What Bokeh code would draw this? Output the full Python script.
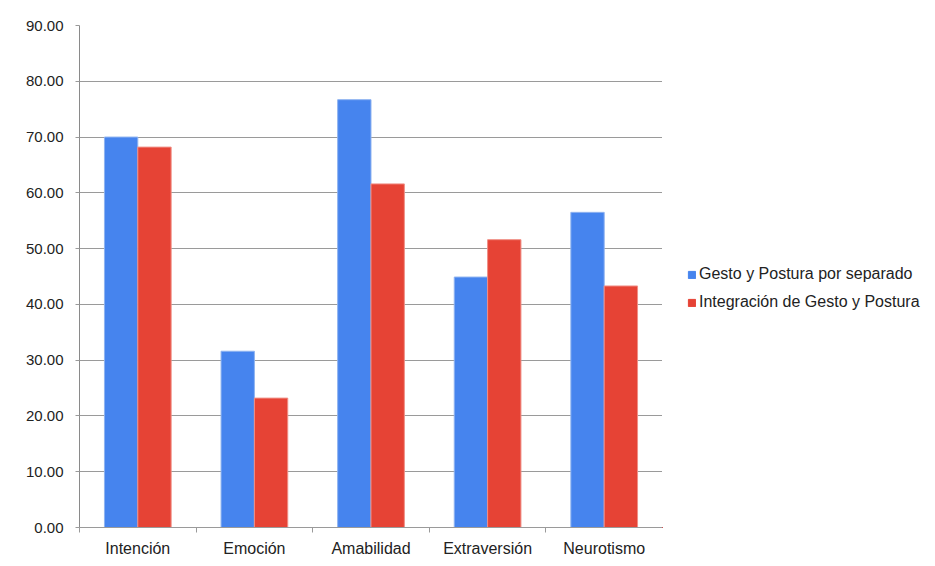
from bokeh.plotting import figure
from bokeh.layouts import row
from bokeh.models import (ColumnDataSource, FixedTicker, Legend, LegendItem,
                          NumeralTickFormatter)
from bokeh.embed import file_html
from bokeh.resources import INLINE

categories = ["Intención", "Emoción", "Amabilidad", "Extraversión", "Neurotismo"]
series_names = ["Gesto y Postura por separado", "Integración de Gesto y Postura"]
separado = [70.0, 31.6, 76.7, 44.9, 56.5]
integracion = [68.2, 23.2, 61.6, 51.6, 43.3]
y_ticks = [0, 10, 20, 30, 40, 50, 60, 70, 80, 90]

BLUE = "#4684EE"
RED = "#E64335"
FONT = "Liberation Sans"

idx = list(range(len(categories)))
bar_w = 0.286
src = ColumnDataSource(dict(
    xb=[i + 0.5 - bar_w / 2 for i in idx],
    xr=[i + 0.5 + bar_w / 2 for i in idx],
    sep=separado,
    integ=integracion,
))

p = figure(width=662, height=566, output_backend="svg", toolbar_location=None,
           x_range=(0, len(categories)), y_range=(0, 90),
           min_border_left=79, min_border_right=0, min_border_top=25,
           min_border_bottom=39)
p.outline_line_color = None
p.background_fill_color = "white"
p.border_fill_color = "white"

r1 = p.vbar(x="xb", top="sep", width=bar_w, source=src, fill_color=BLUE,
            line_color="#8fb3f0", line_width=1)
r2 = p.vbar(x="xr", top="integ", width=bar_w, source=src, fill_color=RED,
            line_color="#f08f86", line_width=1)

# x axis: labels at centres, ticks at category boundaries
xax = p.xaxis[0]
xax.ticker = FixedTicker(ticks=[i + 0.5 for i in idx],
                         minor_ticks=list(range(len(categories) + 1)))
xax.major_label_overrides = {i + 0.5: c for i, c in enumerate(categories)}
xax.major_tick_out = 0
xax.major_tick_in = 0
xax.minor_tick_out = 5
xax.minor_tick_in = 0
xax.minor_tick_line_color = "#9a9a9a"
xax.axis_line_color = "#9a9a9a"
xax.major_label_text_font = FONT
xax.major_label_text_font_size = "16px"
xax.major_label_text_color = "#222222"
xax.major_label_standoff = 7

yax = p.yaxis[0]
yax.ticker = FixedTicker(ticks=y_ticks)
yax.formatter = NumeralTickFormatter(format="0.00")
yax.major_tick_out = 4
yax.major_tick_in = 0
yax.minor_tick_line_color = None
yax.major_tick_line_color = "#9a9a9a"
yax.axis_line_color = "#8a8a8a"
yax.axis_line_width = 1
yax.major_label_text_font = FONT
yax.major_label_text_font_size = "15px"
yax.major_label_text_color = "#222222"
yax.major_label_standoff = 12

p.xgrid.grid_line_color = None
p.ygrid.grid_line_color = "#9a9a9a"
p.ygrid.ticker = FixedTicker(ticks=y_ticks)

# legend panel as a separate, axis-less figure (its bars lie outside its view)
lf = figure(width=273, height=566, output_backend="svg", toolbar_location=None,
            x_axis_type=None, y_axis_type=None, x_range=(100, 101),
            y_range=(1000, 1001), min_border=0)
lf.outline_line_color = None
lf.xgrid.grid_line_color = None
lf.ygrid.grid_line_color = None
g1 = lf.vbar(x="xb", top="sep", width=bar_w, source=src,
             fill_color=BLUE, line_color=BLUE)
g2 = lf.vbar(x="xr", top="integ", width=bar_w, source=src,
             fill_color=RED, line_color=RED)

legend = Legend(items=[LegendItem(label=series_names[0], renderers=[g1]),
                       LegendItem(label=series_names[1], renderers=[g2])],
                location=(25, 215))
legend.border_line_color = None
legend.background_fill_alpha = 0
legend.padding = 0
legend.margin = 0
legend.spacing = 8
legend.glyph_width = 9
legend.glyph_height = 9
legend.label_height = 20
legend.label_standoff = 3
legend.label_text_font = FONT
legend.label_text_font_size = "16px"
legend.label_text_color = "#222222"
lf.add_layout(legend, "center")

layout = row(p, lf, spacing=0)
open("out.html", "w").write(file_html(layout, INLINE))
